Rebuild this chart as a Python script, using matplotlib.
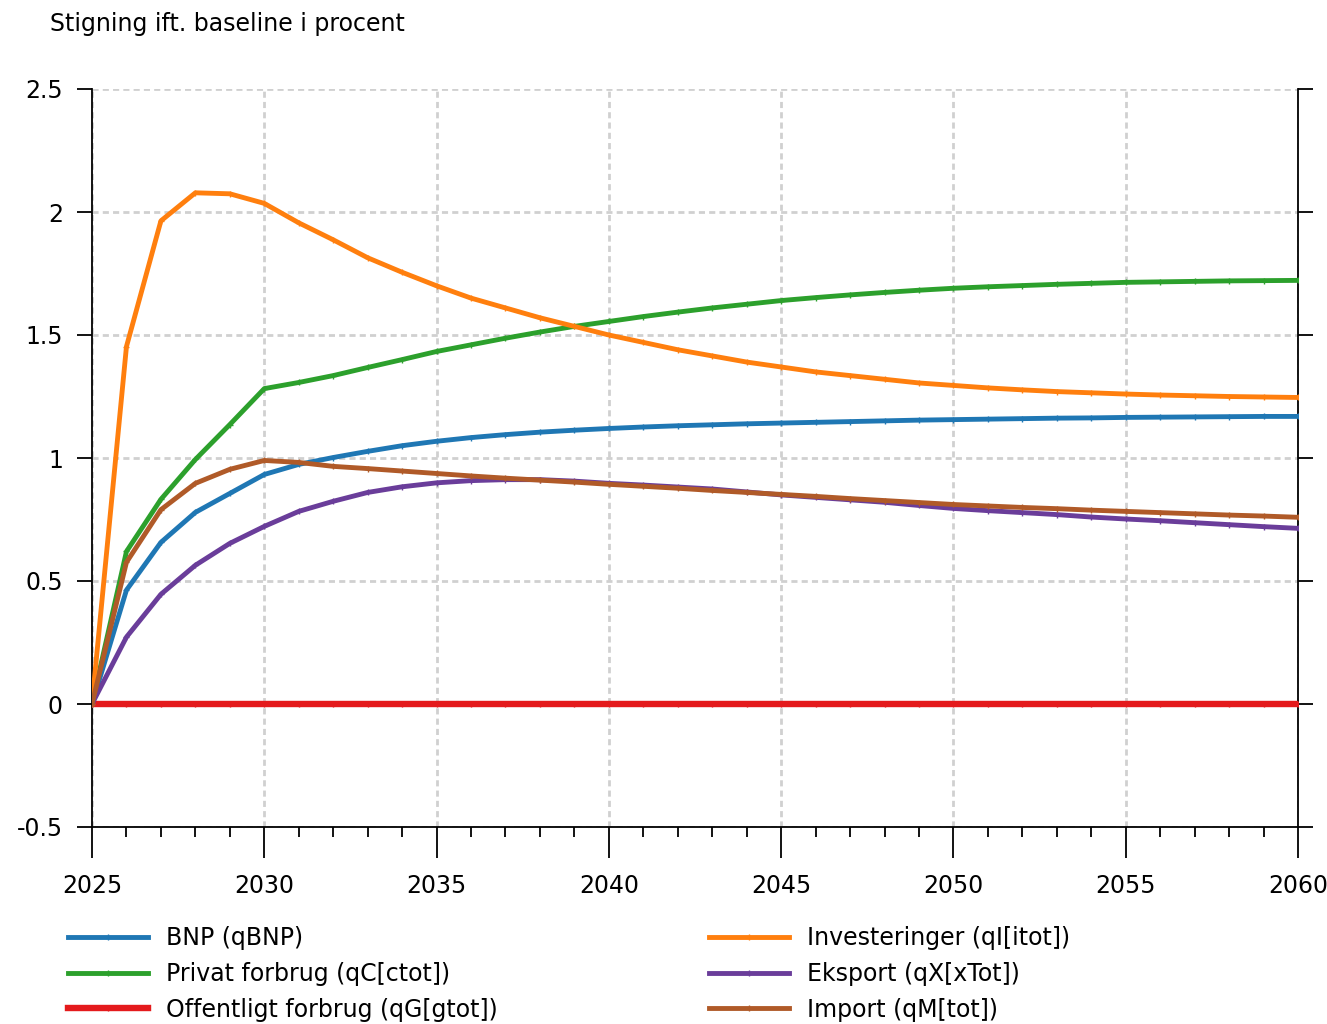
import numpy as np
import matplotlib.pyplot as plt
from matplotlib.ticker import MultipleLocator

# years and responses (pct. deviation from baseline)
years = np.arange(2025, 2061)

bnp = [0.0, 0.463, 0.657, 0.779, 0.856, 0.933, 0.974, 1.002, 1.027, 1.05,
       1.068, 1.083, 1.095, 1.105, 1.113, 1.12, 1.126, 1.131, 1.135, 1.139,
       1.142, 1.145, 1.148, 1.151, 1.154, 1.156, 1.158, 1.16, 1.162, 1.163,
       1.165, 1.166, 1.167, 1.168, 1.169, 1.169]
privat = [0.0, 0.62, 0.832, 0.994, 1.136, 1.282, 1.307, 1.335, 1.368, 1.40,
          1.433, 1.46, 1.487, 1.512, 1.535, 1.555, 1.575, 1.593, 1.61, 1.625,
          1.64, 1.652, 1.663, 1.673, 1.682, 1.69, 1.696, 1.701, 1.706, 1.71,
          1.714, 1.716, 1.718, 1.72, 1.721, 1.722]
offentligt = [0.0] * 36
invest = [0.0, 1.453, 1.964, 2.078, 2.074, 2.035, 1.956, 1.887, 1.814, 1.755,
          1.70, 1.65, 1.61, 1.57, 1.535, 1.50, 1.47, 1.44, 1.415, 1.39,
          1.37, 1.35, 1.335, 1.32, 1.305, 1.295, 1.285, 1.277, 1.27, 1.265,
          1.26, 1.256, 1.253, 1.25, 1.248, 1.246]
eksport = [0.0, 0.272, 0.446, 0.564, 0.653, 0.722, 0.783, 0.824, 0.86, 0.883,
           0.899, 0.908, 0.912, 0.912, 0.906, 0.897, 0.89, 0.882, 0.874, 0.862,
           0.85, 0.84, 0.83, 0.82, 0.807, 0.795, 0.786, 0.778, 0.77, 0.76,
           0.752, 0.745, 0.737, 0.729, 0.721, 0.714]
importq = [0.0, 0.576, 0.79, 0.897, 0.954, 0.99, 0.982, 0.966, 0.957, 0.947,
           0.937, 0.927, 0.918, 0.91, 0.902, 0.893, 0.885, 0.877, 0.868, 0.86,
           0.852, 0.844, 0.835, 0.827, 0.819, 0.811, 0.805, 0.799, 0.794, 0.788,
           0.783, 0.778, 0.773, 0.768, 0.764, 0.759]

labels = ['BNP (qBNP)', 'Privat forbrug (qC[ctot])', 'Offentligt forbrug (qG[gtot])',
          'Investeringer (qI[itot])', 'Eksport (qX[xTot])', 'Import (qM[tot])']
series = [bnp, privat, offentligt, invest, eksport, importq]
colors = ['#1f77b4', '#2ca02c', '#e41a1c', '#ff7f0e', '#6a3d9a', '#b05a28']
widths = [3.5, 3.5, 4.6, 3.5, 3.5, 3.5]

plt.rcParams['font.family'] = 'DejaVu Sans'
plt.rcParams['font.size'] = 17

fig = plt.figure(figsize=(13.27, 10.24), dpi=100)
ax = fig.add_axes([92/1327, 1-827/1024, (1298-92)/1327, (827-89)/1024])

lines = []
for y, c, lw, lab in zip(series, colors, widths, labels):
    ln, = ax.plot(years, y, color=c, lw=lw, marker='+', ms=5, mew=1,
                  label=lab, zorder=3)
    lines.append(ln)

ax.set_xlim(2025, 2060)
ax.set_ylim(-0.5, 2.5)
ax.xaxis.set_major_locator(MultipleLocator(5))
ax.xaxis.set_minor_locator(MultipleLocator(1))
ax.yaxis.set_major_locator(MultipleLocator(0.5))
ax.yaxis.set_major_formatter(plt.FuncFormatter(lambda v, p: f'{v:g}'))

ax.grid(True, which='major', color='#d0d0d0', lw=2, ls=(0, (2.2, 1.5)), zorder=0)
ax.spines['top'].set_visible(False)
for s in ['left', 'right', 'bottom']:
    ax.spines[s].set_linewidth(1.3)

ax.tick_params(axis='y', which='major', direction='out', length=11, width=1.3,
               left=True, right=True, pad=10)
ax.tick_params(axis='x', which='major', direction='out', length=22, width=1.3, pad=12)
ax.tick_params(axis='x', which='minor', direction='out', length=7, width=1.3)

fig.text(50/1327, 1-24/1024, 'Stigning ift. baseline i procent', va='center', ha='left',
         fontsize=17)

leg_kw = dict(frameon=False, loc='upper left', borderpad=0, borderaxespad=0,
              handlelength=3.4, handletextpad=0.75, labelspacing=0.5, fontsize=17)
leg1 = fig.legend(handles=lines[:3], bbox_to_anchor=(68/1327, 1-926/1024), **leg_kw)
leg2 = fig.legend(handles=lines[3:], bbox_to_anchor=(709/1327, 1-926/1024), **leg_kw)

fig.savefig('out.png', dpi=100)
